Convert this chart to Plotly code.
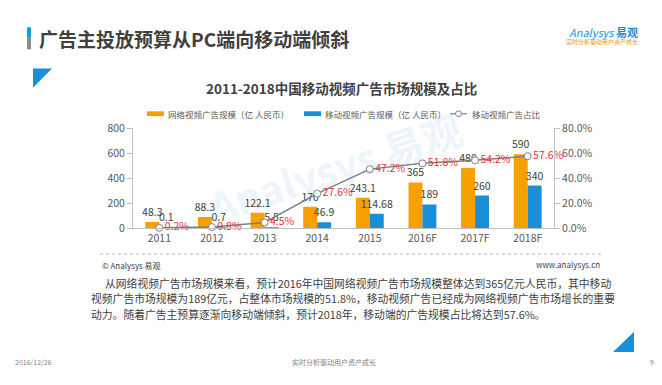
import plotly.graph_objects as go

W, H = 662, 385

categories = ["2011", "2012", "2013", "2014", "2015", "2016F", "2017F", "2018F"]
online_video_ad = [48.3, 88.3, 122.1, 170, 243.1, 365, 480, 590]
mobile_video_ad = [0.1, 0.7, 5.5, 46.9, 114.68, 189, 260, 340]
mobile_share = [0.002, 0.008, 0.045, 0.276, 0.472, 0.518, 0.542, 0.576]

online_labels = ["48.3", "88.3", "122.1", "170", "243.1", "365", "480", "590"]
mobile_labels = ["0.1", "0.7", "5.5", "46.9", "114.68", "189", "260", "340"]
share_labels = ["0.2%", "0.8%", "4.5%", "27.6%", "47.2%", "51.8%", "54.2%", "57.6%"]

ORANGE = "#f7a000"
BLUE = "#1a8fd8"
GREY = "#7f7f7f"
RED = "#e0363c"
TXT = "#595959"
CJK = "Noto Sans CJK SC, Microsoft YaHei, sans-serif"


def px(x):
    return x / W


def py(y):
    return 1 - y / H


fig = go.Figure()
fig.add_trace(go.Bar(
    x=categories, y=online_video_ad, name="网络视频广告规模（亿 人民币）",
    marker=dict(color=ORANGE, line=dict(width=0)),
    text=online_labels, textposition="outside", constraintext="none",
    textfont=dict(size=10.5, color="#404040", family=CJK), cliponaxis=False,
))
fig.add_trace(go.Bar(
    x=categories, y=mobile_video_ad, name="移动视频广告规模（亿 人民币）",
    marker=dict(color=BLUE, line=dict(width=0)),
    text=mobile_labels, textposition="outside", constraintext="none",
    textfont=dict(size=10.5, color="#404040", family=CJK), cliponaxis=False,
))
fig.add_trace(go.Scatter(
    x=categories, y=mobile_share, name="移动视频广告占比", yaxis="y2",
    mode="lines+markers+text",
    line=dict(color=GREY, width=1.5),
    marker=dict(size=7, color="white", line=dict(color=GREY, width=1)),
    text=share_labels, textposition="middle right",
    textfont=dict(size=10.5, color=RED, family=CJK), cliponaxis=False,
))

x0, x1 = px(133), px(554)
y0, y1 = py(229), py(125)

fig.update_layout(
    width=W, height=H,
    margin=dict(l=0, r=0, t=0, b=0),
    paper_bgcolor="white", plot_bgcolor="rgba(0,0,0,0)",
    showlegend=False,
    barmode="group", bargap=0.47, bargroupgap=0,
    font=dict(family=CJK, color=TXT, size=10),
    xaxis=dict(
        domain=[x0, x1], showline=True, linecolor="#bfbfbf", linewidth=1,
        ticks="", showgrid=False, zeroline=False,
        tickfont=dict(size=10.5, color=TXT, family=CJK),
    ),
    yaxis=dict(
        domain=[y0, y1], range=[0, 800], dtick=200,
        showline=True, linecolor="#bfbfbf", ticks="outside", ticklen=5,
        tickcolor="#bfbfbf", showgrid=False, zeroline=False,
        tickfont=dict(size=10.5, color=TXT, family=CJK),
    ),
    yaxis2=dict(
        overlaying="y", side="right", anchor="x", range=[0, 0.8], dtick=0.2,
        tickformat=".1%", showline=True, linecolor="#bfbfbf", ticks="outside",
        ticklen=5, tickcolor="#bfbfbf", showgrid=False, zeroline=False,
        tickfont=dict(size=10.5, color=TXT, family=CJK),
    ),
)

shapes = []
annotations = []

# page title bar
shapes.append(dict(type="rect", xref="paper", yref="paper",
                   x0=px(27), x1=px(31), y0=py(31), y1=py(20),
                   fillcolor="#1a9ad6", line=dict(width=0)))
shapes.append(dict(type="rect", xref="paper", yref="paper",
                   x0=px(27), x1=px(31), y0=py(43), y1=py(31),
                   fillcolor="#8c8c8c", line=dict(width=0)))
annotations.append(dict(text="<b>广告主投放预算从PC端向移动端倾斜</b>", x=px(37), y=py(32),
                        xref="paper", yref="paper", xanchor="left", yanchor="middle",
                        showarrow=False, font=dict(size=19, color="#404040", family=CJK)))
# logo
annotations.append(dict(text="<i>Analysys</i> <b>易观</b>", x=px(640), y=py(25),
                        xref="paper", yref="paper", xanchor="right", yanchor="middle",
                        showarrow=False, font=dict(size=11, color="#1a8fd8", family=CJK)))
annotations.append(dict(text="实时分析驱动用户资产成长", x=px(640), y=py(35),
                        xref="paper", yref="paper", xanchor="right", yanchor="middle",
                        showarrow=False, font=dict(size=6, color="#e8912a", family=CJK)))

# decorative triangles
shapes.append(dict(type="path", xref="paper", yref="paper",
                   path=f"M {px(33)},{py(63)} L {px(52)},{py(63)} L {px(33)},{py(83)} Z",
                   fillcolor="#1a8fd8", line=dict(width=0)))
shapes.append(dict(type="path", xref="paper", yref="paper",
                   path=f"M {px(634)},{py(337)} L {px(634)},{py(358)} L {px(613)},{py(358)} Z",
                   fillcolor="#1a8fd8", line=dict(width=0)))

# chart title
annotations.append(dict(text="<b>2011-2018中国移动视频广告市场规模及占比</b>", x=px(341), y=py(83),
                        xref="paper", yref="paper", xanchor="center", yanchor="middle",
                        showarrow=False, font=dict(size=13.5, color="#404040", family=CJK)))

# legend
LY = 110
shapes.append(dict(type="rect", xref="paper", yref="paper",
                   x0=px(147), x1=px(164), y0=py(LY + 2.5), y1=py(LY - 2.5),
                   fillcolor=ORANGE, line=dict(width=0)))
annotations.append(dict(text="网络视频广告规模（亿 人民币）", x=px(166), y=py(LY),
                        xref="paper", yref="paper", xanchor="left", yanchor="middle",
                        showarrow=False, font=dict(size=8.5, color=TXT, family=CJK)))
shapes.append(dict(type="rect", xref="paper", yref="paper",
                   x0=px(304), x1=px(321), y0=py(LY + 2.5), y1=py(LY - 2.5),
                   fillcolor=BLUE, line=dict(width=0)))
annotations.append(dict(text="移动视频广告规模（亿 人民币）", x=px(323), y=py(LY),
                        xref="paper", yref="paper", xanchor="left", yanchor="middle",
                        showarrow=False, font=dict(size=8.5, color=TXT, family=CJK)))
shapes.append(dict(type="line", xref="paper", yref="paper",
                   x0=px(450), x1=px(467), y0=py(LY), y1=py(LY),
                   line=dict(color=GREY, width=1.2)))
shapes.append(dict(type="circle", xref="paper", yref="paper",
                   x0=px(455.5), x1=px(461.5), y0=py(LY + 3), y1=py(LY - 3),
                   fillcolor="white", line=dict(color=GREY, width=1)))
annotations.append(dict(text="移动视频广告占比", x=px(470), y=py(LY),
                        xref="paper", yref="paper", xanchor="left", yanchor="middle",
                        showarrow=False, font=dict(size=8.5, color=TXT, family=CJK)))

# watermark
annotations.append(dict(text="<b>Analysys 易观</b>", x=px(335), y=py(165),
                        xref="paper", yref="paper", xanchor="center", yanchor="middle",
                        textangle=-18, showarrow=False, opacity=0.08,
                        font=dict(size=40, color="#1a8fd8", family=CJK)))

# dashed separator + source
shapes.append(dict(type="line", xref="paper", yref="paper",
                   x0=px(100), x1=px(602), y0=py(256), y1=py(256),
                   line=dict(color="#a6a6a6", width=0.8, dash="dot")))
annotations.append(dict(text="© Analysys 易观", x=px(100), y=py(268),
                        xref="paper", yref="paper", xanchor="left", yanchor="middle",
                        showarrow=False, font=dict(size=8, color="#404040", family=CJK)))
annotations.append(dict(text="www.analysys.cn", x=px(602), y=py(267),
                        xref="paper", yref="paper", xanchor="right", yanchor="middle",
                        showarrow=False, font=dict(size=8, color="#404040", family=CJK)))

# paragraph
para = [
    (103, 286, "从网络视频广告市场规模来看，预计2016年中国网络视频广告市场规模整体达到365亿元人民币，其中移动"),
    (89, 302, "视频广告市场规模为189亿元，占整体市场规模的51.8%，移动视频广告已经成为网络视频广告市场增长的重要"),
    (89, 318, "动力。随着广告主预算逐渐向移动端倾斜，预计2018年，移动端的广告规模占比将达到57.6%。"),
]
for xx, yy, t in para:
    annotations.append(dict(text=t, x=px(xx), y=py(yy),
                            xref="paper", yref="paper", xanchor="left", yanchor="middle",
                            showarrow=False, font=dict(size=10.8, color="#404040", family=CJK)))

# footer
annotations.append(dict(text="2016/12/26", x=px(13), y=py(368),
                        xref="paper", yref="paper", xanchor="left", yanchor="middle",
                        showarrow=False, font=dict(size=7, color="#7f7f7f", family=CJK)))
annotations.append(dict(text="实时分析驱动用户资产成长", x=px(334), y=py(368),
                        xref="paper", yref="paper", xanchor="center", yanchor="middle",
                        showarrow=False, font=dict(size=7, color="#7f7f7f", family=CJK)))
annotations.append(dict(text="9", x=px(652), y=py(368),
                        xref="paper", yref="paper", xanchor="center", yanchor="middle",
                        showarrow=False, font=dict(size=7, color="#7f7f7f", family=CJK)))

fig.update_layout(shapes=shapes, annotations=annotations)
fig.write_html(
    "out.html",
    config={"displayModeBar": False},
    post_script="document.body.style.margin='0';document.body.style.overflow='hidden';",
)
